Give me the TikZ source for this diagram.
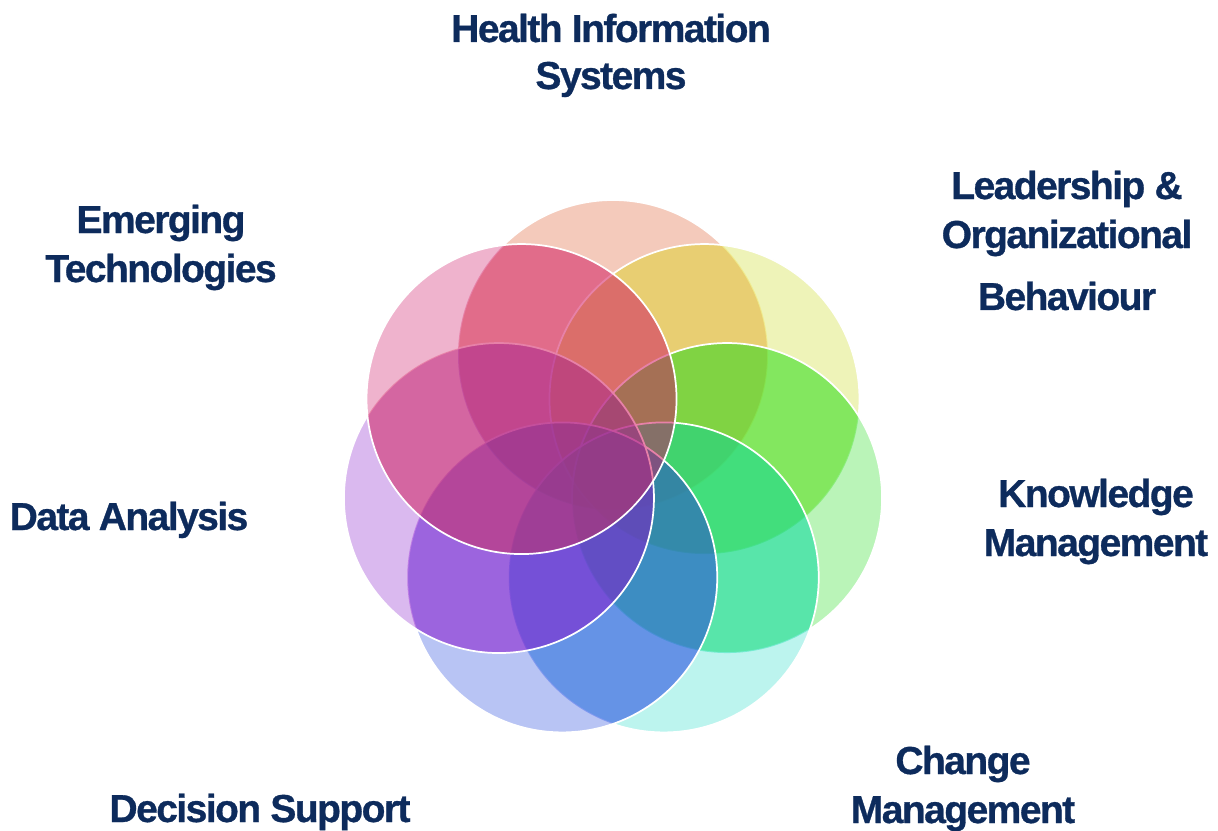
\documentclass[tikz,border=0pt]{standalone}
\usepackage{fontspec}
\setmainfont{Liberation Sans}
\usetikzlibrary{calc}
\definecolor{navy}{RGB}{13,43,92}
% pale petal colours
\definecolor{hisC}{HTML}{F4CABB}
\definecolor{lobC}{HTML}{EEF3B8}
\definecolor{kmC}{HTML}{BAF4B8}
\definecolor{cmC}{HTML}{BCF4EE}
\definecolor{dsC}{HTML}{B8C4F4}
\definecolor{daC}{HTML}{DAB9EF}
\definecolor{etC}{HTML}{EFB3CD}
% strong tints for the overlaps
\definecolor{hisT}{RGB}{230,120,90}
\definecolor{lobT}{RGB}{240,225,90}
\definecolor{kmT}{RGB}{80,230,50}
\definecolor{cmT}{RGB}{30,225,170}
\definecolor{dsT}{RGB}{60,100,235}
\definecolor{daT}{RGB}{155,50,215}
\definecolor{etT}{RGB}{222,70,125}

\begin{document}
\begin{tikzpicture}
  [x=0.75pt,y=-0.75pt,
   petal/.style={fill=#1,blend mode=multiply},
   tint/.style={fill=#1,fill opacity=0.45},
   rim/.style={draw=white,line width=1.3pt},
   lbl/.style={text=navy,inner sep=0pt,align=center,anchor=base,
     font=\fontsize{29.25pt}{36.75pt}\selectfont\bfseries
          \addfontfeature{LetterSpace=-4,FakeBold=0.8}},
  ]
  \useasboundingbox (0,0) rectangle (1218,831);

  % petal centres, clockwise from the top
  \foreach \ang [count=\n] in {-90,-38.57,12.86,64.29,115.71,167.14,218.57}
    \coordinate (p\n) at ($(613,472)+(\ang:117)$);

  \foreach \col/\tcol [count=\n] in {hisC/hisT,lobC/lobT,kmC/kmT,cmC/cmT,
                                     dsC/dsT,daC/daT,etC/etT}
  {
    \fill[petal=\col] (p\n) circle[radius=155];
    \ifnum\n>1
      \pgfmathtruncatemacro\prev{\n-1}
      \begin{scope}
        \clip foreach \k in {1,...,\prev} {(p\k) circle[radius=155]};
        \fill[tint=\tcol] (p\n) circle[radius=155];
      \end{scope}
    \fi
    \draw[rim] (p\n) circle[radius=155];
  }

  \node[lbl] (his) at (611,89)   {Health Information\\[-1.5pt]Systems};
  \node[lbl] (lob) at (1067,310) {Leadership \&\\Organizational\\[9.75pt]Behaviour};
  \node[lbl] (et)  at (161,282)  {Emerging\\Technologies};
  \node[lbl] (da)  at (129,530)  {Data Analysis};
  \node[lbl] (km)  at (1096,556) {Knowledge\\Management};
  \node[lbl] (cm)  at (963,823)  {Change\\Management};
  \node[lbl] (ds)  at (260,822)  {Decision Support};

\end{tikzpicture}
\end{document}
